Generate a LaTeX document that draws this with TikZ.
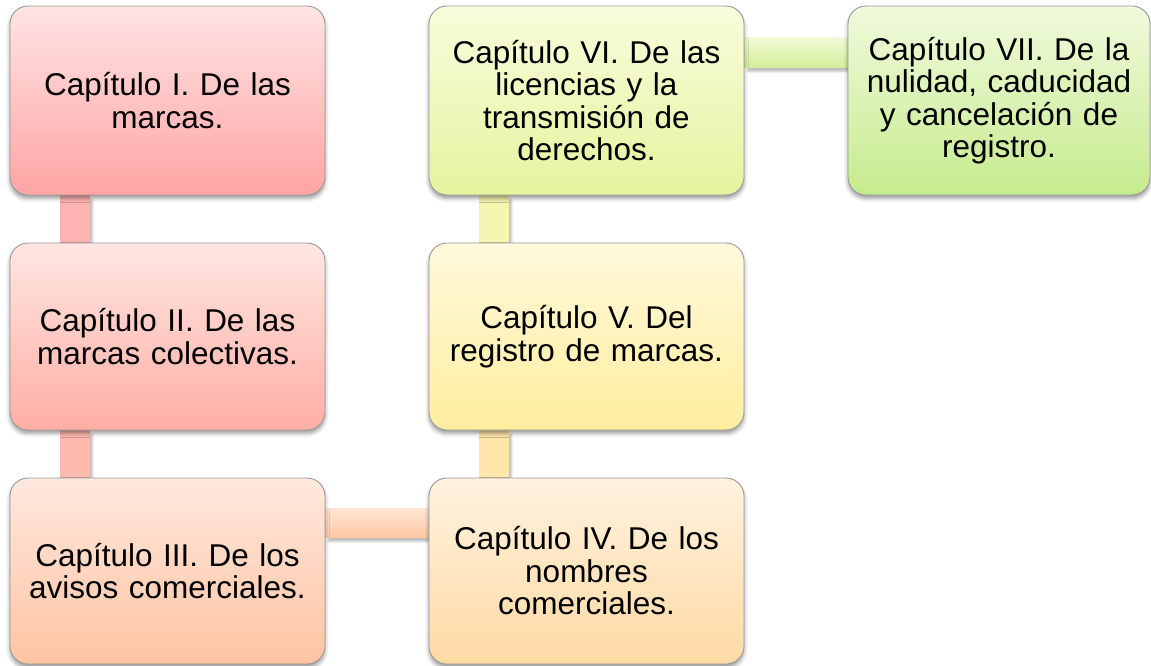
\documentclass[tikz,border=0pt]{standalone}
\usepackage{fontspec}
\setmainfont{Liberation Sans}
\usetikzlibrary{shadows.blur,backgrounds}
\definecolor{aT}{HTML}{FFE4E4}\definecolor{aB}{HTML}{FFA4A4}
\definecolor{bT}{HTML}{FFE6E2}\definecolor{bB}{HTML}{FFAEA4}
\definecolor{cT}{HTML}{FFE8DE}\definecolor{cB}{HTML}{FFC4A2}
\definecolor{dT}{HTML}{FFF2DE}\definecolor{dB}{HTML}{FFDAA4}
\definecolor{eT}{HTML}{FFF9DC}\definecolor{eB}{HTML}{FFEE9E}
\definecolor{fT}{HTML}{F9FCDC}\definecolor{fB}{HTML}{E6F39E}
\definecolor{gT}{HTML}{F0FADC}\definecolor{gB}{HTML}{C6EB8E}
\definecolor{c1}{HTML}{FFB4B4}
\definecolor{c2}{HTML}{FFBAB0}
\definecolor{c3T}{HTML}{FFE4D2}\definecolor{c3B}{HTML}{FFC8A4}
\definecolor{c4}{HTML}{FFE6AA}
\definecolor{c5}{HTML}{F5F6B2}
\definecolor{c6T}{HTML}{F2FAD6}\definecolor{c6B}{HTML}{D2ED9A}
\begin{document}
\begin{tikzpicture}[x=1pt,y=1pt,
  box/.style={rounded corners=18pt, draw=black!40, line width=0.9pt,
    minimum height=189pt, minimum width=315pt, inner sep=0pt,
    text width=300pt, align=center,
    font=\fontsize{31.5}{32.5}\selectfont,
    blur shadow={shadow xshift=0pt, shadow yshift=-3.5pt, shadow opacity=40, shadow blur radius=4pt}},
  conn/.style={blur shadow={shadow xshift=3pt, shadow yshift=-4pt, shadow opacity=25, shadow blur radius=2pt}}]
\useasboundingbox (0,0) rectangle (1151,-666);
% nodes
\node[box, top color=aT, bottom color=aB] (I) at (167.5,-100.5) {Capítulo I. De las\\marcas.};
\node[box, top color=bT, bottom color=bB, minimum height=187pt] (II) at (167.5,-336.5) {Capítulo II. De las\\marcas colectivas.};
\node[box, top color=cT, bottom color=cB, minimum height=186pt] (III) at (167.5,-571) {Capítulo III. De los\\avisos comerciales.};
\node[box, top color=dT, bottom color=dB, minimum height=186pt] (IV) at (586.5,-571) {Capítulo IV. De los\\nombres\\comerciales.};
\node[box, top color=eT, bottom color=eB, minimum height=187pt] (V) at (586.5,-336.5) {Capítulo V. Del\\registro de marcas.};
\node[box, top color=fT, bottom color=fB] (VI) at (586.5,-100.5) {Capítulo VI. De las\\licencias y la\\transmisión de\\derechos.};
\node[box, top color=gT, bottom color=gB, minimum width=302pt, text width=290pt] (VII) at (999,-100.5) {Capítulo VII. De la\\nulidad, caducidad\\y cancelación de\\registro.};
% connectors (behind boxes)
\begin{scope}[on background layer]
\path[conn, fill=c1] ([xshift=50pt]I.south west) rectangle ([xshift=80pt]II.north west);
\path[conn, fill=c2] ([xshift=50pt]II.south west) rectangle ([xshift=80pt]III.north west);
\path[conn, top color=c3T, bottom color=c3B] ([yshift=-31pt]III.north east) rectangle ([yshift=-60pt]IV.north west);
\path[conn, fill=c4] ([xshift=50pt]V.south west) rectangle ([xshift=80pt]IV.north west);
\path[conn, fill=c5] ([xshift=50pt]VI.south west) rectangle ([xshift=80pt]V.north west);
\path[conn, top color=c6T, bottom color=c6B] ([yshift=-32pt]VI.north east) rectangle ([yshift=-62pt]VII.north west);
\end{scope}
\end{tikzpicture}
\end{document}
